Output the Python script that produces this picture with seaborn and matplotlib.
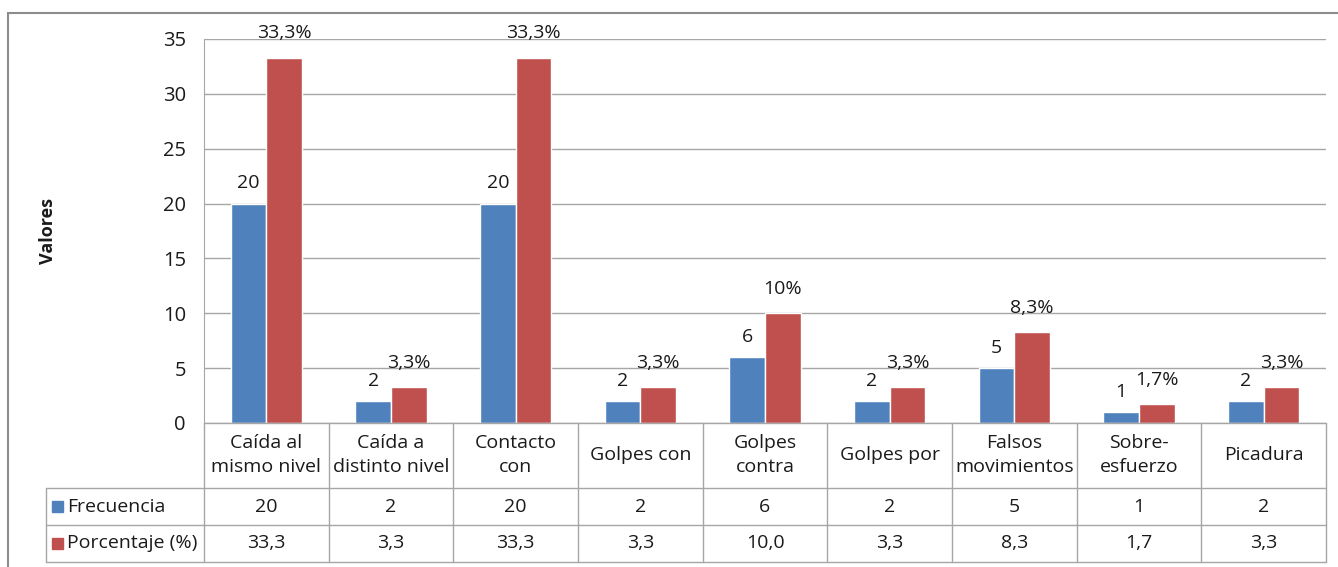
import numpy as np
import pandas as pd
import matplotlib.pyplot as plt
import seaborn as sns
from matplotlib.patches import Rectangle

# ---------- Data ----------
categorias = ["Caída al\nmismo nivel", "Caída a\ndistinto nivel", "Contacto\ncon",
              "Golpes con", "Golpes\ncontra", "Golpes por", "Falsos\nmovimientos",
              "Sobre-\nesfuerzo", "Picadura"]
frecuencia = [20, 2, 20, 2, 6, 2, 5, 1, 2]
porcentaje = [33.3, 3.3, 33.3, 3.3, 10.0, 3.3, 8.3, 1.7, 3.3]
series = ["Frecuencia", "Porcentaje (%)"]
colores = ["#4F81BD", "#C0504D"]

df = pd.DataFrame({
    "categoria": categorias * 2,
    "valor": frecuencia + porcentaje,
    "serie": [series[0]] * len(categorias) + [series[1]] * len(categorias),
})

# ---------- Figure ----------
sns.set_style("white")
plt.rcParams["font.family"] = ["Open Sans", "DejaVu Sans"]
FS = 14
TXT = "#1A1A1A"
LINE = "#A6A6A6"

fig = plt.figure(figsize=(13.38, 5.67), dpi=100)
ax = fig.add_axes([204 / 1338, 1 - 423 / 567, 1122 / 1338, 384 / 567])

sns.barplot(data=df, x="categoria", y="valor", hue="serie", palette=colores,
            width=0.57, gap=0, saturation=1, ax=ax, legend=False)

ax.set_ylim(0, 35)
ax.set_xlim(-0.5, len(categorias) - 0.5)
ax.set_yticks(range(0, 36, 5))
ax.tick_params(axis="y", length=0, pad=13, labelsize=FS + 0.5, colors=TXT)
ax.tick_params(axis="x", length=0, labelbottom=False)
ax.set_xlabel("")
ax.set_ylabel("Valores", fontsize=FS - 1, fontweight="bold", color=TXT)
ax.yaxis.set_label_coords(-0.131, 0.5)
ax.grid(axis="y", color=LINE, linewidth=1)
ax.set_axisbelow(True)
for s in ["top", "right", "bottom"]:
    ax.spines[s].set_visible(False)
ax.spines["left"].set_color(LINE)

# bar labels
lab_f = [str(v) for v in frecuencia]
lab_p = [f"{v:g}".replace(".", ",") + "%" for v in porcentaje]
ax.bar_label(ax.containers[0], labels=lab_f, padding=8, fontsize=FS, color=TXT)
ax.bar_label(ax.containers[1], labels=lab_p, padding=11, fontsize=FS, color=TXT)

# ---------- Data table ----------
def fy(py):
    return (423 - py) / 384

def fx(px):
    return (px - 204) / 1122

xt = ax.get_xaxis_transform()
n = len(categorias)
kw = dict(color=LINE, linewidth=1, clip_on=False)

# horizontal lines
ax.plot([0, 1], [0, 0], transform=ax.transAxes, **kw)
for py in [488, 525, 562]:
    ax.plot([fx(46), 1], [fy(py), fy(py)], transform=ax.transAxes, **kw)
# vertical lines
for i in range(n + 1):
    ax.plot([i - 0.5, i - 0.5], [0, fy(562)], transform=xt, **kw)
ax.plot([fx(46), fx(46)], [fy(488), fy(562)], transform=ax.transAxes, **kw)

# cell texts
for i, c in enumerate(categorias):
    ax.text(i, fy(455), c, transform=xt, ha="center", va="center",
            fontsize=FS, color=TXT, linespacing=1.45)
    ax.text(i, fy(506.5), str(frecuencia[i]), transform=xt, ha="center",
            va="center", fontsize=FS, color=TXT)
    ax.text(i, fy(543.5), f"{porcentaje[i]:.1f}".replace(".", ","), transform=xt,
            ha="center", va="center", fontsize=FS, color=TXT)

# legend keys in table
for name, col, py in zip(series, colores, [506.5, 543.5]):
    ax.add_patch(Rectangle((fx(52), fy(py + 5.5)), 11 / 1122, 11 / 384,
                           transform=ax.transAxes, color=col, clip_on=False))
    ax.text(fx(67), fy(py), name, transform=ax.transAxes, ha="left",
            va="center", fontsize=FS, color=TXT)

# outer chart border
fig.add_artist(Rectangle((8 / 1338, -0.02), 1.1, 1 - 13 / 567 + 0.02,
                         transform=fig.transFigure, fill=False,
                         edgecolor="#8C8C8C", linewidth=1.5))

plt.savefig("out.png", dpi=100)
